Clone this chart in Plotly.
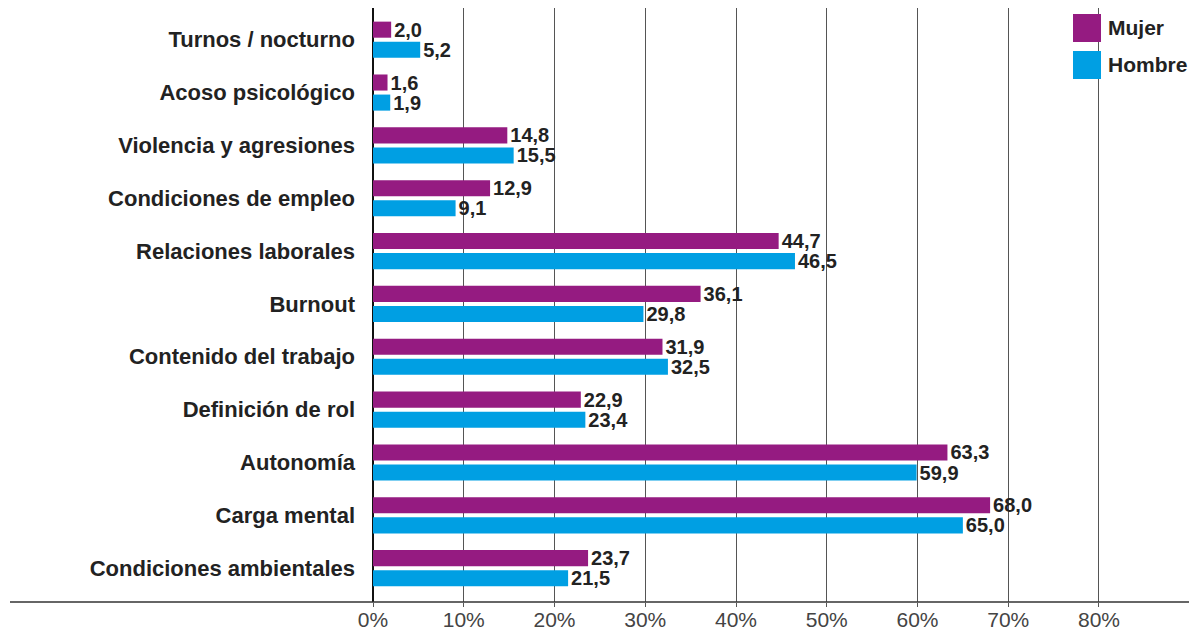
import plotly.graph_objects as go

# Categorías (de arriba a abajo) y valores (%)
categorias = [
    "Turnos / nocturno",
    "Acoso psicológico",
    "Violencia y agresiones",
    "Condiciones de empleo",
    "Relaciones laborales",
    "Burnout",
    "Contenido del trabajo",
    "Definición de rol",
    "Autonomía",
    "Carga mental",
    "Condiciones ambientales",
]
mujer = [2.0, 1.6, 14.8, 12.9, 44.7, 36.1, 31.9, 22.9, 63.3, 68.0, 23.7]
hombre = [5.2, 1.9, 15.5, 9.1, 46.5, 29.8, 32.5, 23.4, 59.9, 65.0, 21.5]
x_ticks = [0, 10, 20, 30, 40, 50, 60, 70, 80]
x_ticklabels = [f"{v}%" for v in x_ticks]

color_mujer = "#951B81"
color_hombre = "#009FE3"
fuente = "Liberation Sans, Arial, sans-serif"

# la página tiene 8 px de margen en el body: la figura se ajusta a eso
W, H = 1189, 622
ML, MT, MB = 365, 0, 28
PW, PH = W - ML, H - MT - MB


def fmt(v):
    return f"{v:.1f}".replace(".", ",")


def px_x(x):
    return (x - 8 - ML) / PW


def px_y(y):
    return 1 - (y - 8 - MT) / PH


fig = go.Figure()
for nombre, valores, color in [("Mujer", mujer, color_mujer), ("Hombre", hombre, color_hombre)]:
    fig.add_trace(
        go.Bar(
            y=categorias,
            x=valores,
            orientation="h",
            name=nombre,
            marker=dict(color=color, line=dict(width=0)),
            text=[fmt(v) for v in valores],
            textposition="outside",
            constraintext="none",
            cliponaxis=False,
            textfont=dict(family=fuente, size=20, color="#222222", weight="bold"),
            showlegend=False,
        )
    )

fig.update_layout(
    width=W,
    height=H,
    barmode="group",
    bargap=0.24,
    bargroupgap=0.2,
    plot_bgcolor="white",
    paper_bgcolor="white",
    margin=dict(l=ML, r=0, t=MT, b=MB, pad=0),
    font=dict(family=fuente),
)

fig.update_xaxes(
    range=[0, 90.8],
    tickvals=x_ticks,
    ticktext=x_ticklabels,
    showgrid=True,
    gridcolor="#555555",
    gridwidth=1,
    zeroline=True,
    zerolinecolor="#111111",
    zerolinewidth=1.5,
    ticks="outside",
    ticklen=4,
    tickcolor="#555555",
    ticklabelstandoff=-5,
    tickfont=dict(size=21, color="#444444"),
    showline=False,
    automargin=False,
)
fig.update_yaxes(
    range=[10.64, -0.6],
    showgrid=False,
    ticks="",
    ticklabelstandoff=17,
    tickfont=dict(size=22, color="#222222", weight="bold"),
    automargin=False,
)

# línea del eje inferior que se prolonga bajo las etiquetas
fig.add_shape(
    type="line", xref="paper", yref="paper",
    x0=px_x(10), x1=1.0, y0=0, y1=0,
    line=dict(color="#333333", width=1.5),
)

# leyenda con cuadrados grandes
for i, (nombre, color) in enumerate([("Mujer", color_mujer), ("Hombre", color_hombre)]):
    y_top = 14 + i * 37
    fig.add_shape(
        type="rect", xref="paper", yref="paper",
        x0=px_x(1073), x1=px_x(1101),
        y0=px_y(y_top), y1=px_y(y_top + 28),
        fillcolor=color, line=dict(width=0),
    )
    fig.add_annotation(
        xref="paper", yref="paper",
        x=px_x(1106), y=px_y(y_top + 14),
        text=nombre, showarrow=False, xanchor="left", yanchor="middle",
        font=dict(size=21, color="#222222", weight="bold"),
    )

fig.write_html("out.html")
